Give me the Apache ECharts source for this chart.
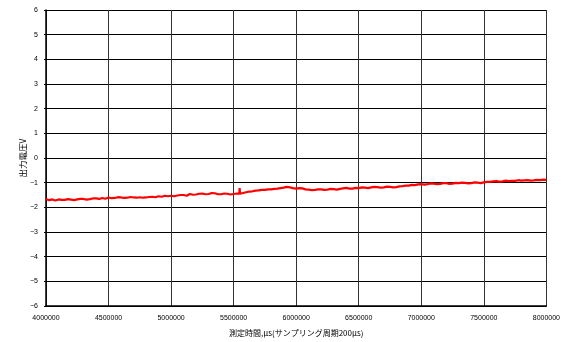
<!DOCTYPE html>
<html><head><meta charset="utf-8">
<script src="https://cdn.jsdelivr.net/npm/echarts@6/dist/echarts.min.js"></script>
<style>html,body{margin:0;padding:0;background:#fff}#c{width:563px;height:342px}</style>
</head><body><div id="c"></div>
<script>
const timesUs = [4000000,4025000,4050000,4075000,4100000,4125000,4150000,4175000,4200000,4225000,4250000,4275000,4300000,4325000,4350000,4375000,4400000,4425000,4450000,4475000,
4500000,4525000,4550000,4575000,4600000,4625000,4650000,4675000,4700000,4725000,4750000,4775000,4800000,4825000,4850000,4875000,4900000,4925000,4950000,4975000,
5000000,5025000,5050000,5075000,5100000,5125000,5150000,5175000,5200000,5225000,5250000,5275000,5300000,5325000,5350000,5375000,5400000,5425000,5450000,5475000,
5500000,5525000,5545000,5548000,5551000,5575000,5600000,5625000,5650000,5675000,5700000,5725000,5750000,5775000,5800000,5825000,5850000,5875000,5900000,5925000,5950000,5975000,
6000000,6025000,6050000,6075000,6100000,6125000,6150000,6175000,6200000,6225000,6250000,6275000,6300000,6325000,6350000,6375000,6400000,6425000,6450000,6475000,
6500000,6525000,6550000,6575000,6600000,6625000,6650000,6675000,6700000,6725000,6750000,6775000,6800000,6825000,6850000,6875000,6900000,6925000,6950000,6975000,
7000000,7025000,7050000,7075000,7100000,7125000,7150000,7175000,7200000,7225000,7250000,7275000,7300000,7325000,7350000,7375000,7400000,7425000,7450000,7475000,
7500000,7525000,7550000,7575000,7600000,7625000,7650000,7675000,7700000,7725000,7750000,7775000,7800000,7825000,7850000,7875000,7900000,7925000,7950000,7975000,8000000];
const voltage = [-1.66,-1.71,-1.68,-1.72,-1.68,-1.70,-1.70,-1.67,-1.69,-1.71,-1.68,-1.66,-1.66,-1.69,-1.67,-1.64,-1.64,-1.66,-1.62,-1.65,
-1.60,-1.63,-1.62,-1.59,-1.60,-1.62,-1.61,-1.58,-1.60,-1.61,-1.59,-1.61,-1.60,-1.58,-1.57,-1.59,-1.55,-1.57,-1.53,-1.55,
-1.53,-1.55,-1.52,-1.50,-1.50,-1.53,-1.46,-1.49,-1.48,-1.45,-1.44,-1.47,-1.46,-1.42,-1.43,-1.47,-1.47,-1.44,-1.45,-1.48,
-1.46,-1.44,-1.46,-1.22,-1.45,-1.42,-1.39,-1.36,-1.35,-1.32,-1.31,-1.29,-1.29,-1.27,-1.27,-1.25,-1.24,-1.22,-1.20,-1.17,-1.19,-1.22,
-1.24,-1.22,-1.23,-1.27,-1.28,-1.30,-1.29,-1.27,-1.27,-1.29,-1.28,-1.25,-1.26,-1.28,-1.25,-1.23,-1.21,-1.24,-1.24,-1.21,
-1.22,-1.19,-1.20,-1.22,-1.19,-1.17,-1.18,-1.20,-1.19,-1.16,-1.17,-1.19,-1.18,-1.15,-1.14,-1.12,-1.12,-1.09,-1.10,-1.07,
-1.06,-1.08,-1.06,-1.03,-1.04,-1.06,-1.05,-1.02,-1.02,-1.05,-1.04,-1.01,-1.02,-1.00,-1.01,-1.03,-1.02,-0.99,-1.00,-1.02,
-0.99,-0.97,-0.97,-0.95,-0.94,-0.96,-0.95,-0.92,-0.94,-0.93,-0.93,-0.90,-0.92,-0.91,-0.90,-0.92,-0.91,-0.89,-0.90,-0.88,-0.89];
const xTitle = '測定時間,μs(サンプリング周期200μs)';
const yTitle = '出力電圧V';

const chart = echarts.init(document.getElementById('c'), null, {renderer:'canvas'});
const font = 'Liberation Sans, Arial, sans-serif';
chart.setOption({
  animation:false,
  backgroundColor:'#fff',
  grid:{left:46,right:16,top:10,bottom:36,containLabel:false},
  xAxis:{type:'value',min:4000000,max:8000000,interval:500000,
    name:xTitle,nameLocation:'middle',nameGap:23,nameMoveOverlap:false,
    nameTextStyle:{fontSize:8,color:'#000',fontFamily:'Noto Sans CJK JP'},
    axisLine:{onZero:false,lineStyle:{color:'#000',width:1.5}},
    axisTick:{show:false},
    axisLabel:{fontSize:7,color:'#000',fontFamily:font,margin:9,formatter:v=>String(v)},
    splitLine:{lineStyle:{color:'#333',width:1}}},
  yAxis:{type:'value',min:-6,max:6,interval:1,
    name:yTitle,nameLocation:'middle',nameGap:19,nameRotate:90,nameMoveOverlap:false,
    nameTextStyle:{fontSize:8.5,color:'#000',fontFamily:'Noto Sans CJK JP'},
    axisLine:{show:true,onZero:false,lineStyle:{color:'#000',width:1.5}},
    axisTick:{show:true,length:2,lineStyle:{color:'#000'}},
    axisLabel:{fontSize:7,color:'#000',fontFamily:font,margin:8,
      formatter:v=>v<0?'\u2212'+Math.abs(v):String(v)},
    splitLine:{lineStyle:{color:'#000',width:1}}},
  series:[{type:'line',data:timesUs.map((t,i)=>[t,voltage[i]]),
    showSymbol:false,lineStyle:{color:'#ff0000',width:2.2}}]
});
</script></body></html>
